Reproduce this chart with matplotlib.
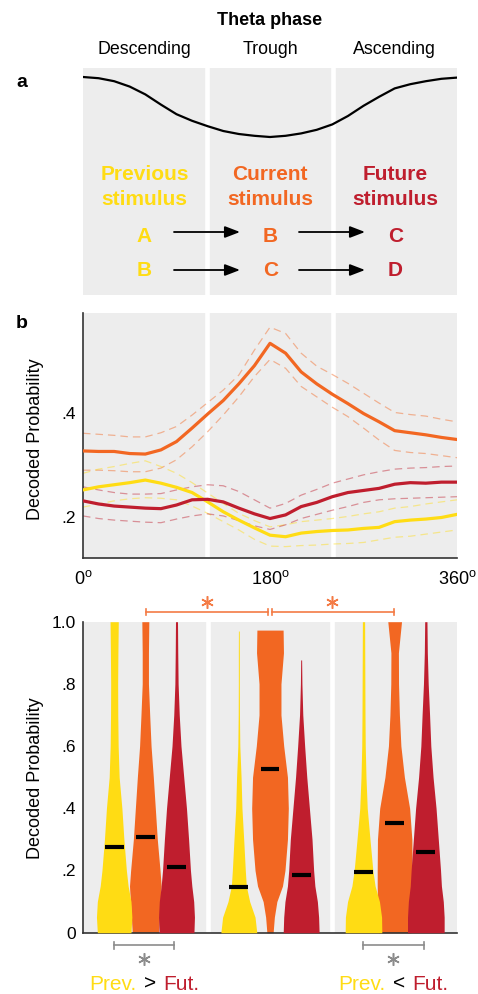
import numpy as np
import matplotlib
matplotlib.use('Agg')
import matplotlib.pyplot as plt

plt.rcParams['font.family'] = ['Liberation Sans', 'DejaVu Sans']
plt.rcParams['mathtext.fontset'] = 'custom'
plt.rcParams['mathtext.rm'] = 'Liberation Sans'
plt.rcParams['mathtext.it'] = 'Liberation Sans:italic'
plt.rcParams['mathtext.bf'] = 'Liberation Sans:bold'

YELLOW = '#FFDC14'
ORANGE = '#F26722'
RED = '#BF1E2E'
BG = '#EDEDED'

# ---- panel a: schematic theta cycle (1 = peak, 0 = trough)
phase = np.arange(0, 361, 15)
theta_wave = [1.0, 0.98, 0.93, 0.84, 0.71, 0.54, 0.38, 0.27, 0.18, 0.10, 0.05, 0.02, 0.0,
              0.02, 0.06, 0.12, 0.21, 0.35, 0.52, 0.67, 0.81, 0.88, 0.93, 0.97, 0.99]

# ---- panel b: decoded probability across the theta phase (mean and +/- band)
cur_mean = [0.327, 0.326, 0.326, 0.322, 0.321, 0.329, 0.345, 0.371, 0.398, 0.424, 0.456, 0.491, 0.534,
            0.515, 0.479, 0.456, 0.436, 0.418, 0.399, 0.383, 0.366, 0.362, 0.358, 0.353, 0.349]
cur_hi = [0.361, 0.359, 0.357, 0.354, 0.354, 0.362, 0.374, 0.396, 0.420, 0.444, 0.473, 0.521, 0.565,
          0.553, 0.515, 0.490, 0.474, 0.457, 0.438, 0.419, 0.401, 0.397, 0.394, 0.388, 0.383]
cur_lo = [0.290, 0.290, 0.289, 0.287, 0.287, 0.294, 0.310, 0.335, 0.364, 0.396, 0.431, 0.470, 0.503,
          0.486, 0.451, 0.431, 0.411, 0.393, 0.371, 0.348, 0.328, 0.324, 0.322, 0.318, 0.314]

prev_mean = [0.252, 0.258, 0.262, 0.266, 0.271, 0.265, 0.257, 0.247, 0.229, 0.210, 0.194, 0.179, 0.165,
             0.162, 0.169, 0.172, 0.174, 0.175, 0.178, 0.180, 0.191, 0.194, 0.196, 0.199, 0.205]
prev_hi = [0.284, 0.292, 0.297, 0.303, 0.308, 0.297, 0.284, 0.266, 0.246, 0.226, 0.207, 0.193, 0.181,
           0.185, 0.191, 0.194, 0.197, 0.201, 0.206, 0.210, 0.217, 0.220, 0.225, 0.229, 0.233]
prev_lo = [0.219, 0.225, 0.231, 0.235, 0.237, 0.236, 0.233, 0.221, 0.207, 0.191, 0.175, 0.157, 0.144,
           0.143, 0.145, 0.146, 0.148, 0.149, 0.151, 0.156, 0.161, 0.163, 0.167, 0.171, 0.175]

fut_mean = [0.231, 0.225, 0.221, 0.219, 0.217, 0.216, 0.223, 0.233, 0.234, 0.229, 0.217, 0.206, 0.197,
            0.204, 0.220, 0.228, 0.239, 0.247, 0.251, 0.255, 0.263, 0.266, 0.265, 0.267, 0.267]
fut_hi = [0.258, 0.252, 0.247, 0.244, 0.244, 0.245, 0.252, 0.258, 0.262, 0.260, 0.249, 0.233, 0.217,
          0.226, 0.242, 0.253, 0.265, 0.273, 0.281, 0.287, 0.292, 0.294, 0.295, 0.297, 0.298]
fut_lo = [0.202, 0.197, 0.194, 0.192, 0.190, 0.189, 0.196, 0.202, 0.206, 0.202, 0.193, 0.183, 0.176,
          0.185, 0.197, 0.205, 0.213, 0.220, 0.228, 0.233, 0.235, 0.236, 0.237, 0.238, 0.239]

# ---- panel c: violin half-widths at these probability levels, per theta bin
levels = [0, .05, .1, .15, .2, .3, .4, .5, .6, .7, .8, .9, 1.0]
prev_width = [
    [0.135, 0.142, 0.135, 0.112, 0.098, 0.078, 0.062, 0.040, 0.032, 0.029, 0.028, 0.030, 0.033],
    [0.144, 0.130, 0.087, 0.060, 0.052, 0.039, 0.025, 0.018, 0.008, 0.005, 0.004, 0.004, 0.003],
    [0.147, 0.145, 0.128, 0.093, 0.075, 0.052, 0.030, 0.020, 0.014, 0.012, 0.011, 0.010, 0.009],
]
cur_width = [
    [0.105, 0.112, 0.120, 0.127, 0.118, 0.096, 0.080, 0.064, 0.046, 0.035, 0.025, 0.025, 0.028],
    [0.025, 0.035, 0.055, 0.100, 0.120, 0.140, 0.147, 0.140, 0.110, 0.088, 0.088, 0.108, 0.104],
    [0.130, 0.135, 0.138, 0.140, 0.140, 0.138, 0.120, 0.078, 0.050, 0.038, 0.031, 0.030, 0.055],
]
fut_width = [
    [0.140, 0.144, 0.138, 0.123, 0.112, 0.097, 0.080, 0.058, 0.036, 0.022, 0.013, 0.010, 0.008],
    [0.144, 0.140, 0.130, 0.110, 0.100, 0.087, 0.066, 0.045, 0.028, 0.013, 0.006, 0.003, 0.0],
    [0.147, 0.147, 0.140, 0.125, 0.118, 0.100, 0.082, 0.058, 0.040, 0.030, 0.019, 0.012, 0.009],
]
prev_top = [1.0, 0.97, 1.0]
cur_top = [1.0, 0.973, 1.0]
fut_top = [1.0, 0.877, 1.0]
prev_median = [0.275, 0.148, 0.194]
cur_median = [0.309, 0.525, 0.354]
fut_median = [0.212, 0.186, 0.260]

W, H = 478, 994
fig = plt.figure(figsize=(W / 100, H / 100), dpi=100)


def fx(px):
    return px / W


def fy(py):
    return 1 - py / H


def shade(ax, gaps):
    ax.set_facecolor(BG)
    for g in gaps:
        ax.axvline(g, color='white', lw=3.3, zorder=1)


# ================= panel a
ax_a = fig.add_axes([fx(83), fy(295), 374 / W, 227 / H])
shade(ax_a, [119.5, 241])
ax_a.plot(phase, theta_wave, color='black', lw=1.6, zorder=3)
ax_a.set_xlim(0, 360)
ax_a.set_ylim(-2.633, 1.15)
ax_a.set_xticks([])
ax_a.set_yticks([])
for s in ax_a.spines.values():
    s.set_visible(False)

fig.text(fx(270), fy(25), 'Theta phase', ha='center', va='baseline', fontsize=13, fontweight='bold')
for x, t in [(144, 'Descending'), (270, 'Trough'), (394, 'Ascending')]:
    fig.text(fx(x), fy(54), t, ha='center', va='baseline', fontsize=12.8)
fig.text(fx(22), fy(87), 'a', ha='center', va='baseline', fontsize=14, fontweight='bold')
fig.text(fx(22), fy(328), 'b', ha='center', va='baseline', fontsize=14, fontweight='bold')

stim = [(144.5, 'Previous', YELLOW, 'A', 'B'),
        (270.3, 'Current', ORANGE, 'B', 'C'),
        (395.5, 'Future', RED, 'C', 'D')]
for x, name, c, l1, l2 in stim:
    fig.text(fx(x), fy(180), name, ha='center', va='baseline', fontsize=15, fontweight='bold', color=c)
    fig.text(fx(x), fy(205), 'stimulus', ha='center', va='baseline', fontsize=15, fontweight='bold', color=c)
    fig.text(fx(x), fy(242), l1, ha='center', va='baseline', fontsize=15, fontweight='bold', color=c)
    fig.text(fx(x), fy(276), l2, ha='center', va='baseline', fontsize=15, fontweight='bold', color=c)

for y in [232, 270]:
    for x0, x1 in [(174, 240), (299, 365)]:
        fig.add_artist(matplotlib.patches.FancyArrowPatch(
            (fx(x0), fy(y)), (fx(x1), fy(y)), transform=fig.transFigure,
            arrowstyle='-|>,head_length=0.65,head_width=0.25', mutation_scale=14,
            color='black', lw=1.3, shrinkA=0, shrinkB=0))

# ================= panel b
ax_b = fig.add_axes([fx(83), fy(558), 374 / W, 245 / H])
shade(ax_b, [119.5, 241])
for band_hi, band_lo, c in [(cur_hi, cur_lo, ORANGE), (prev_hi, prev_lo, YELLOW), (fut_hi, fut_lo, RED)]:
    ax_b.plot(phase, band_hi, color=c, lw=0.9, ls=(0, (6, 4)), alpha=0.45, zorder=2)
    ax_b.plot(phase, band_lo, color=c, lw=0.9, ls=(0, (6, 4)), alpha=0.45, zorder=2)
for mean, c in [(cur_mean, ORANGE), (prev_mean, YELLOW), (fut_mean, RED)]:
    ax_b.plot(phase, mean, color=c, lw=2.3, zorder=3)
ax_b.set_xlim(0, 360)
ax_b.set_ylim(0.1211, 0.5923)
ax_b.set_xticks([0, 180, 360])
ax_b.set_xticklabels(['0$^{\\rm o}$', '180$^{\\rm o}$', '360$^{\\rm o}$'])
ax_b.set_yticks([0.2, 0.4])
ax_b.set_yticklabels(['.2', '.4'])
ax_b.tick_params(axis='x', length=0, pad=9, labelsize=13)
ax_b.tick_params(axis='y', length=0, pad=5, labelsize=12.5)
ax_b.spines['top'].set_visible(False)
ax_b.spines['right'].set_visible(False)
for s in ['left', 'bottom']:
    ax_b.spines[s].set_color('#333333')
    ax_b.spines[s].set_linewidth(1.2)
fig.text(fx(36), fy(439), 'Decoded Probability', rotation=90, ha='center', va='center', fontsize=13)

# ================= panel c
ax_c = fig.add_axes([fx(83), fy(932.7), 374 / W, 311 / H])
shade(ax_c, [1.0, 2.0])
lev = np.array(levels)
series = [(cur_width, cur_top, cur_median, ORANGE, 0.5),
          (prev_width, prev_top, prev_median, YELLOW, 0.25),
          (fut_width, fut_top, fut_median, RED, 0.75)]
for z, (widths, tops, medians, c, off) in enumerate(series):
    for g in range(3):
        pos = g + off
        top = tops[g]
        yy = np.append(lev[lev < top], top)
        ww = np.interp(yy, lev, widths[g])
        ax_c.fill_betweenx(yy, pos - ww, pos + ww, color=c, lw=0, zorder=2 + z)
for widths, tops, medians, c, off in series:
    for g in range(3):
        pos = g + off
        ax_c.hlines(medians[g], pos - 0.075, pos + 0.075, color='black', lw=3.0, zorder=6)

ax_c.set_xlim(0, 3)
ax_c.set_ylim(0, 1)
ax_c.set_xticks([])
ax_c.set_yticks([0, 0.2, 0.4, 0.6, 0.8, 1.0])
ax_c.set_yticklabels(['0', '.2', '.4', '.6', '.8', '1.0'])
ax_c.tick_params(axis='y', length=0, pad=5, labelsize=12.5)
ax_c.spines['top'].set_visible(False)
ax_c.spines['right'].set_visible(False)
for s in ['left', 'bottom']:
    ax_c.spines[s].set_color('#333333')
    ax_c.spines[s].set_linewidth(1.2)
fig.text(fx(36), fy(778), 'Decoded Probability', rotation=90, ha='center', va='center', fontsize=13)

# significance brackets
SIG_OR = '#F47B45'
for x0, x1, xs in [(0.505, 1.484, 0.995), (1.516, 2.494, 1.997)]:
    ax_c.plot([x0, x1], [1.031, 1.031], color=SIG_OR, lw=1.2, clip_on=False)
    for x in (x0, x1):
        ax_c.plot([x, x], [1.02, 1.042], color=SIG_OR, lw=1.2, clip_on=False)
    ax_c.plot(xs, 1.062, marker=(6, 2, 0), ms=9, mew=1.1, color=SIG_OR, clip_on=False)

SIG_GR = '#8C8C8C'
for x0, x1, xs in [(0.249, 0.73, 0.49), (2.245, 2.735, 2.486)]:
    ax_c.plot([x0, x1], [-0.040, -0.040], color=SIG_GR, lw=1.2, clip_on=False)
    for x in (x0, x1):
        ax_c.plot([x, x], [-0.051, -0.029], color=SIG_GR, lw=1.2, clip_on=False)
    ax_c.plot(xs, -0.085, marker=(6, 2, 0), ms=9, mew=1.1, color=SIG_GR, clip_on=False)

for xc, sign in [(150.5, '>'), (399.5, '<')]:
    fig.text(fx(xc), fy(990), sign, ha='center', va='baseline', fontsize=15, color='black')
    fig.text(fx(xc - 14), fy(990), 'Prev.', ha='right', va='baseline', fontsize=15, color=YELLOW)
    fig.text(fx(xc + 12.5), fy(990), 'Fut.', ha='left', va='baseline', fontsize=15, color=RED)

fig.savefig('out.png', dpi=100)
